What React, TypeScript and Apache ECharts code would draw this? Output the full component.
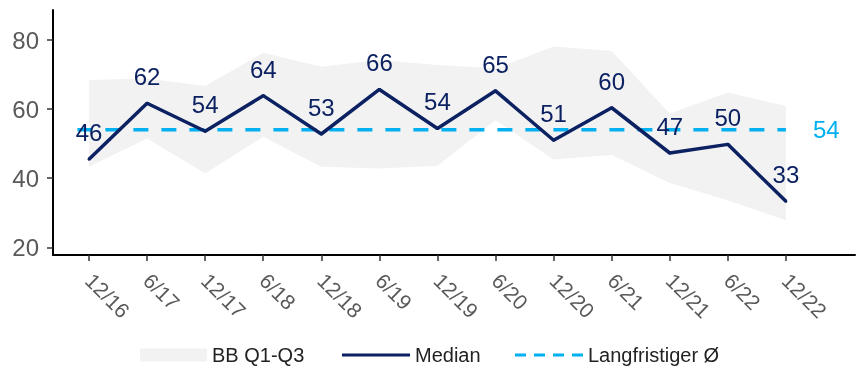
import React, { useEffect, useRef } from "react";
import * as echarts from "echarts";

const categories = ["12/16", "6/17", "12/17", "6/18", "12/18", "6/19", "12/19", "6/20", "12/20", "6/21", "12/21", "6/22", "12/22"];
const median = [45.5, 61.7, 53.6, 63.9, 52.8, 65.7, 54.4, 65.3, 51.0, 60.4, 47.3, 49.8, 33.3];
const q1 = [43.3, 51.5, 41.4, 52.0, 43.3, 42.8, 43.6, 56.8, 45.4, 46.7, 38.6, 33.6, 27.8];
const q3 = [68.4, 68.9, 66.7, 76.3, 72.3, 74.2, 72.8, 71.8, 78.1, 76.8, 58.7, 64.8, 60.9];
const longTermAvg = 54;
const yTicks = [20, 40, 60, 80];

const FONT = "Liberation Sans, Arial, sans-serif";
const NAVY = "#0B2161";
const CYAN = "#00B0F0";
const BAND = "#F2F2F2";

const SOLID_ICON = "path://M0,0h68v3h-68z";
const DASH_ICON = "path://M0,0h11v3h-11z M19,0h11v3h-11z M38,0h11v3h-11z M57,0h11v3h-11z";

export default function App() {
  const ref = useRef<HTMLDivElement>(null);
  useEffect(() => {
    if (!ref.current) return;
    const chart = echarts.init(ref.current, undefined, { renderer: "svg" });
    const idx = categories.map((_, i) => i);
    const legendText = { fontSize: 20, color: "#222", fontFamily: FONT };
    chart.setOption({
      animation: false,
      grid: { left: 53, right: 4, top: 10, bottom: 113, containLabel: false, outerBoundsMode: "none" },
      xAxis: {
        type: "value",
        min: -0.62,
        max: 13.19,
        splitLine: { show: false },
        axisLine: { show: true, onZero: false, lineStyle: { color: "#000", width: 2 } },
        axisTick: { show: true, customValues: idx, length: 6, lineStyle: { color: "#333", width: 1.5 } },
        axisLabel: {
          customValues: idx,
          formatter: (v: number) => categories[Math.round(v)] ?? "",
          rotate: -45,
          margin: 22,
          fontSize: 21,
          color: "#595959",
          fontFamily: FONT,
        },
      },
      yAxis: {
        type: "value",
        min: 17.77,
        max: 88.7,
        splitLine: { show: false },
        axisLine: { show: true, onZero: false, lineStyle: { color: "#000", width: 2 } },
        axisTick: { show: true, customValues: yTicks, length: 6, lineStyle: { color: "#333", width: 1.5 } },
        axisLabel: {
          customValues: yTicks,
          margin: 14,
          fontSize: 24,
          color: "#595959",
          fontFamily: FONT,
        },
      },
      legend: [
        {
          left: 135,
          top: 340,
          itemWidth: 67,
          itemHeight: 13,
          textStyle: legendText,
          data: [{ name: "BB Q1-Q3", icon: "rect", itemStyle: { color: BAND } }],
        },
        {
          left: 337,
          top: 340,
          itemWidth: 68,
          itemHeight: 13,
          textStyle: legendText,
          data: [{ name: "Median", icon: SOLID_ICON, itemStyle: { color: NAVY } }],
        },
        {
          left: 510,
          top: 340,
          itemWidth: 68,
          itemHeight: 13,
          textStyle: legendText,
          data: [{ name: "Langfristiger Ø", icon: DASH_ICON, itemStyle: { color: CYAN } }],
        },
      ],
      series: [
        {
          name: "BB Q1-Q3",
          type: "custom",
          silent: true,
          itemStyle: { color: BAND },
          data: idx.map((i) => [i, q1[i], q3[i]]),
          encode: { x: 0, y: [1, 2] },
          renderItem: (params: any, api: any) => {
            if (params.dataIndex !== 0) return null;
            const upper = idx.map((i) => api.coord([i, q3[i]]));
            const lower = idx.map((i) => api.coord([i, q1[i]])).reverse();
            return {
              type: "polygon",
              shape: { points: upper.concat(lower) },
              style: { fill: BAND },
            };
          },
          z: 1,
        },
        {
          name: "Langfristiger Ø",
          type: "line",
          symbol: "none",
          lineStyle: { color: CYAN, width: 3.5, type: [15, 13] },
          itemStyle: { color: CYAN },
          data: [
            [-0.2, longTermAvg],
            [12, longTermAvg],
          ],
          endLabel: {
            show: true,
            formatter: () => String(longTermAvg),
            color: CYAN,
            fontSize: 24,
            fontFamily: FONT,
            distance: 27,
          },
          z: 2,
        },
        {
          name: "Median",
          type: "line",
          symbol: "circle",
          symbolSize: 3,
          showSymbol: true,
          lineStyle: { color: NAVY, width: 3.5 },
          itemStyle: { color: NAVY },
          label: {
            show: true,
            position: "top",
            distance: 13,
            formatter: (p: any) => String(Math.round(p.value[1])),
            color: NAVY,
            fontSize: 24,
            fontFamily: FONT,
          },
          data: idx.map((i) => [i, median[i]]),
          z: 3,
        },
      ],
    });
    return () => chart.dispose();
  }, []);
  return <div ref={ref} style={{ position: "fixed", left: 0, top: 0, width: 859, height: 368 }} />;
}
